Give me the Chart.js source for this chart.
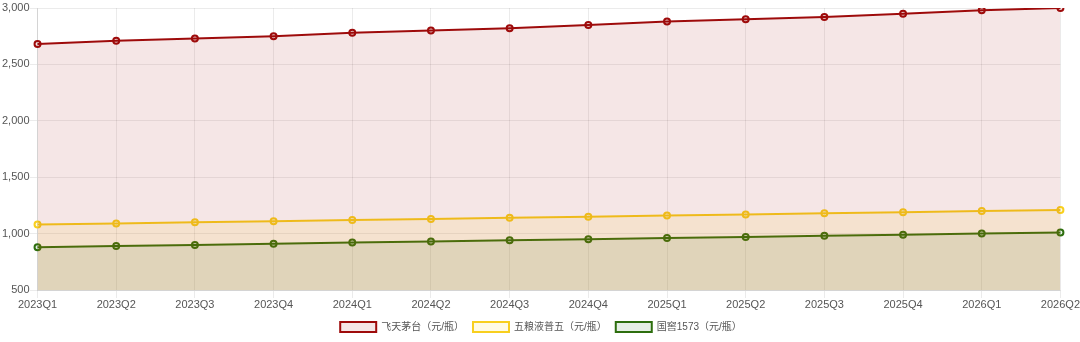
<!DOCTYPE html>
<html><head><meta charset="utf-8">
<script src="https://cdn.jsdelivr.net/npm/chart.js@4"></script>
<style>html,body{margin:0;padding:0;background:#fff}#wrap{width:1080px;height:342px}</style>
</head><body><div id="wrap"><canvas id="c"></canvas></div>
<script>
const categories = ["2023Q1","2023Q2","2023Q3","2023Q4","2024Q1","2024Q2","2024Q3","2024Q4","2025Q1","2025Q2","2025Q3","2025Q4","2026Q1","2026Q2"];
const moutai = [2680,2710,2730,2750,2780,2800,2820,2850,2880,2900,2920,2950,2980,3000];
const wuliangye = [1080,1090,1100,1110,1120,1130,1140,1150,1160,1170,1180,1190,1200,1210];
const guojiao = [880,890,900,910,920,930,940,950,960,970,980,990,1000,1010];
const seriesNames = ["飞天茅台（元/瓶）","五粮液普五（元/瓶）","国窖1573（元/瓶）"];

Chart.defaults.font.family = "'Liberation Sans','Noto Sans CJK SC',sans-serif";
Chart.defaults.font.size = 11;
Chart.defaults.color = '#555';

new Chart(document.getElementById('c'), {
  type: 'line',
  data: {
    labels: categories,
    datasets: [
      {label: seriesNames[0], data: moutai, borderColor: '#9e0b0b', backgroundColor: 'rgba(155,13,13,0.1)', fill: 'origin', borderWidth: 2, pointRadius: 3, pointBorderWidth: 2, tension: 0},
      {label: seriesNames[1], data: wuliangye, borderColor: '#f8cf1e', backgroundColor: 'rgba(255,215,0,0.1)', fill: 'origin', borderWidth: 2, pointRadius: 3, pointBorderWidth: 2, tension: 0},
      {label: seriesNames[2], data: guojiao, borderColor: '#2d6e0e', backgroundColor: 'rgba(0,100,0,0.1)', fill: 'origin', borderWidth: 2, pointRadius: 3, pointBorderWidth: 2, tension: 0}
    ]
  },
  options: {
    responsive: true,
    maintainAspectRatio: false,
    animation: false,
    layout: {padding: {left: 2, right: 0, top: 8, bottom: 0}},
    plugins: {
      legend: {position: 'bottom', labels: {boxWidth: 36, boxHeight: 10, padding: 9, font: {size: 10}}},
      tooltip: {enabled: false}
    },
    scales: {
      x: {grid: {color: 'rgba(0,0,0,0.08)'}, ticks: {maxRotation: 0, autoSkip: false, color: '#555', padding: 0},
          afterFit: (s) => { s.height = 23; }},
      y: {min: 500, max: 3000, grid: {color: 'rgba(0,0,0,0.08)'}, ticks: {stepSize: 500, color: '#555', padding: 0}}
    }
  }
});
</script></body></html>
